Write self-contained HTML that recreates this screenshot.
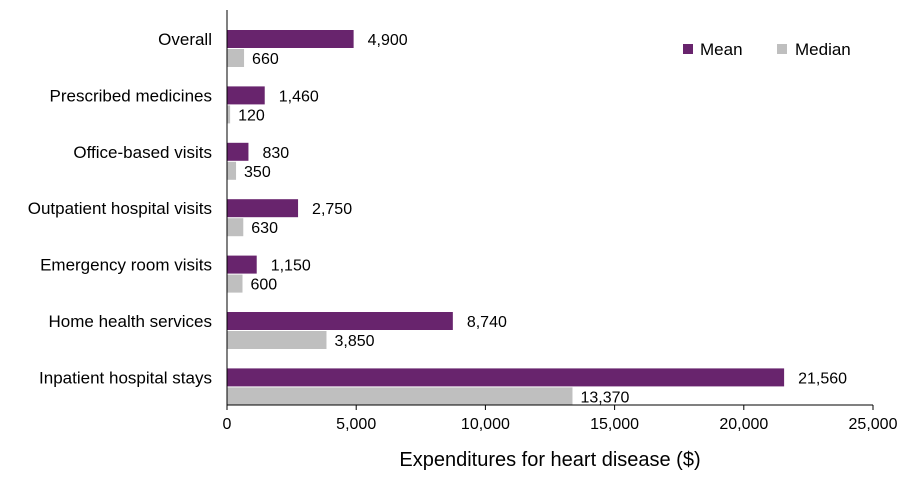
<!DOCTYPE html>
<html><head><meta charset="utf-8"><style>
body{margin:0;background:#fff;}
svg{display:block;font-family:"Liberation Sans",Arial,sans-serif;}
</style></head><body>
<svg id="chart" width="918" height="479"></svg>
<script>
const categories=["Overall","Prescribed medicines","Office-based visits","Outpatient hospital visits","Emergency room visits","Home health services","Inpatient hospital stays"];
const meanValues=[4900,1460,830,2750,1150,8740,21560];
const medianValues=[660,120,350,630,600,3850,13370];
const xTicks=[0,5000,10000,15000,20000,25000];
const NS="http://www.w3.org/2000/svg";
const svg=document.getElementById('chart');
const x0=227,x1=873,xMax=25000;
const xs=v=>x0+(v/xMax)*(x1-x0);
const rowTop=i=>30+i*56.4;
const bh=18;
function el(tag,attrs,parent){const e=document.createElementNS(NS,tag);for(const k in attrs)e.setAttribute(k,attrs[k]);(parent||svg).appendChild(e);return e;}
const fmt=v=>v.toLocaleString('en-US');
categories.forEach((c,i)=>{
  const t=rowTop(i);
  const lab=el('text',{x:212,y:t+bh/2+6,'text-anchor':'end','font-size':17,fill:'#000'});
  lab.textContent=c;
  
  
  const mb=el('rect',{x:x0,y:t,width:xs(meanValues[i])-x0,height:bh,fill:'#68246D'});
  
  
  const md=el('rect',{x:x0,y:t+bh+1,width:xs(medianValues[i])-x0,height:bh,fill:'#BFBFBF'});
  
  
  const ml=el('text',{x:xs(meanValues[i])+14,y:t+bh/2+6,'font-size':16,fill:'#000'});
  ml.textContent=fmt(meanValues[i]);
  
  
  const dl=el('text',{x:xs(medianValues[i])+8,y:t+bh+1+bh/2+6,'font-size':16,fill:'#000'});
  dl.textContent=fmt(medianValues[i]);
  
  
});
const ya=el('line',{x1:x0,y1:10,x2:x0,y2:405,stroke:'#000','stroke-width':1});


const xa=el('line',{x1:x0,y1:405,x2:x1,y2:405,stroke:'#000','stroke-width':1});


xTicks.forEach(v=>{
  const tk=el('line',{x1:xs(v),y1:405,x2:xs(v),y2:410,stroke:'#000'});
  
  
  const tl=el('text',{x:xs(v),y:429,'text-anchor':'middle','font-size':16,fill:'#000'});
  tl.textContent=fmt(v);
  
  
});
const xt=el('text',{x:550,y:466,'text-anchor':'middle','font-size':20,fill:'#000'});
xt.textContent='Expenditures for heart disease ($)';


const g=el('g',{});


const s1=el('rect',{x:683,y:44,width:10,height:10,fill:'#68246D'},g);


const t1=el('text',{x:700,y:55,'font-size':17,fill:'#000'},g);
t1.textContent='Mean';


const s2=el('rect',{x:777,y:44,width:10,height:10,fill:'#BFBFBF'},g);


const t2=el('text',{x:795,y:55,'font-size':17,fill:'#000'},g);
t2.textContent='Median';


</script>
</body></html>
